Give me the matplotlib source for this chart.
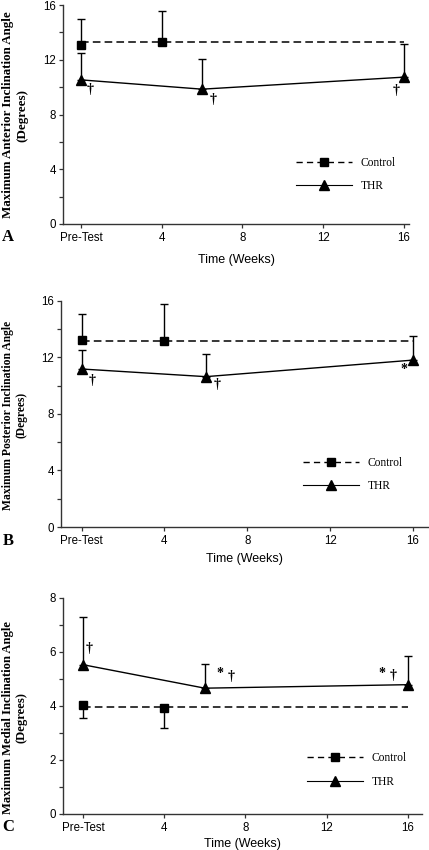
import matplotlib
matplotlib.use("Agg")
import matplotlib.pyplot as plt
from matplotlib.lines import Line2D
from matplotlib.ticker import MultipleLocator

plt.rcParams['lines.scale_dashes'] = False

W, H = 429, 850
DPI = 100
fig = plt.figure(figsize=(W / DPI, H / DPI), dpi=DPI)

# ---------------- data ----------------
x_tick_vals = [0, 4, 8, 12, 16]
x_tick_labels = ["Pre-Test", "4", "8", "12", "16"]

control_weeks = [0, 4]
thr_weeks = [0, 6, 16]
control_line_weeks = [0, 16]

# Panel A: anterior
a_control = [13.1, 13.33]
a_control_err = [1.85, 2.25]
a_control_mean = 13.28
a_thr = [10.53, 9.85, 10.73]
a_thr_err = [1.97, 2.17, 2.41]

# Panel B: posterior
b_control = [13.2, 13.15]
b_control_err = [1.86, 2.59]
b_control_mean = 13.15
b_thr = [11.17, 10.63, 11.8]
b_thr_err = [1.31, 1.6, 1.68]

# Panel C: medial
c_control = [4.02, 3.92]
c_control_err = [0.45, 0.74]
c_control_mean = 3.98
c_thr = [5.53, 4.66, 4.79]
c_thr_err = [1.77, 0.89, 1.05]

# ---------------- layout (pixels) ----------------
panels = [
    dict(letter="A", ylabel="Maximum Anterior Inclination Angle\n(Degrees)",
         control=a_control, cerr=a_control_err, cmean=a_control_mean, cdir="up",
         thr=a_thr, terr=a_thr_err, ymax=16, ymajor=4, yminor=2,
         left=63, right=409, top=5, bottom=224, xlim=(-0.89, 16.25),
         ylab_y=115, ylab_size=9.4, legend=(296, 174.5), letter_xy=(8, 237),
         xlabel_pad=7,
         ann=[(0, "\u2020", 9, -10), (1, "\u2020", 11.5, -10), (2, "\u2020", -7.5, -13)]),
    dict(letter="B", ylabel="Maximum Posterior Inclination Angle\n(Degrees)",
         control=b_control, cerr=b_control_err, cmean=b_control_mean, cdir="up",
         thr=b_thr, terr=b_thr_err, ymax=16, ymajor=4, yminor=2,
         left=61, right=428, top=300.7, bottom=527, xlim=(-1.0, 16.73),
         ylab_y=415, ylab_size=8.4, legend=(303, 474.5), letter_xy=(8, 541),
         xlabel_pad=4,
         ann=[(0, "\u2020", 10, -11), (1, "\u2020", 10.8, -8), (2, "*", -9, -9)]),
    dict(letter="C", ylabel="Maximum Medial Inclination Angle\n(Degrees)",
         control=c_control, cerr=c_control_err, cmean=c_control_mean, cdir="down",
         thr=c_thr, terr=c_thr_err, ymax=8, ymajor=2, yminor=1,
         left=63, right=422, top=598, bottom=814, xlim=(-0.98, 16.69),
         ylab_y=718, ylab_size=9.1, legend=(307, 770), letter_xy=(8, 827),
         xlabel_pad=2.5,
         ann=[(0, "\u2020", 6.3, 16), (1, "*", 15, 15), (1, "\u2020", 26, 12),
              (2, "*", -25.7, 11.5), (2, "\u2020", -14.7, 9)]),
]

axis_color = "#333333"
serif = ["Liberation Serif", "DejaVu Serif"]
sans = ["Liberation Sans", "DejaVu Sans"]

for p in panels:
    ax = fig.add_axes([p["left"] / W, 1 - p["bottom"] / H,
                       (p["right"] - p["left"]) / W, (p["bottom"] - p["top"]) / H])
    ax.set_xlim(*p["xlim"])
    ax.set_ylim(0, p["ymax"])
    for s in ["top", "right"]:
        ax.spines[s].set_visible(False)
    for s in ["left", "bottom"]:
        ax.spines[s].set_color(axis_color)
        ax.spines[s].set_linewidth(1.0)
    ax.yaxis.set_major_locator(MultipleLocator(p["ymajor"]))
    ax.yaxis.set_minor_locator(MultipleLocator(p["yminor"]))
    ax.set_xticks(x_tick_vals)
    ax.set_xticklabels(x_tick_labels)
    ax.tick_params(axis="both", which="both", direction="out", length=3, width=0.9,
                   color=axis_color, labelsize=8.3, pad=2)
    ax.tick_params(axis="x", pad=3)
    for lbl in ax.get_xticklabels() + ax.get_yticklabels():
        lbl.set_fontfamily(sans)

    # control reference dashed line
    ax.plot(control_line_weeks, [p["cmean"], p["cmean"]], color="black", lw=1.1,
            dashes=(5.5, 3.0), zorder=2)
    # control error bars (one-sided)
    if p["cdir"] == "up":
        yerr = [[0] * len(p["cerr"]), p["cerr"]]
    else:
        yerr = [p["cerr"], [0] * len(p["cerr"])]
    ax.errorbar(control_weeks, p["control"], yerr=yerr, fmt="none", ecolor="black",
                elinewidth=1.0, capsize=2.6, capthick=1.0, zorder=3)
    ax.plot(control_weeks, p["control"], linestyle="none", marker="s", markersize=6.3,
            color="black", zorder=4)

    # THR
    ax.errorbar(thr_weeks, p["thr"], yerr=[[0] * len(p["terr"]), p["terr"]], fmt="none",
                ecolor="black", elinewidth=1.0, capsize=2.6, capthick=1.0, zorder=3)
    ax.plot(thr_weeks, p["thr"], color="black", lw=1.0, marker="^", markersize=7,
            zorder=4)

    # annotations
    for idx, txt, dx, dy in p["ann"]:
        ax.annotate(txt, xy=(thr_weeks[idx], p["thr"][idx]), xytext=(dx, dy),
                    textcoords="offset pixels", ha="center", va="center",
                    fontsize=10, fontweight="bold", color="black",
                    family=serif, zorder=5)

    ax.set_xlabel("Time (Weeks)", fontsize=9, family=sans, labelpad=p["xlabel_pad"])

    fig.text(15 / W, 1 - p["ylab_y"] / H, p["ylabel"], rotation=90, ha="center",
             va="center", multialignment="center", fontsize=p["ylab_size"],
             fontweight="bold", family=serif, linespacing=1.2)
    fig.text(p["letter_xy"][0] / W, 1 - p["letter_xy"][1] / H, p["letter"],
             ha="center", va="center", fontsize=12, fontweight="bold", family=serif)

    handles = [
        Line2D([], [], color="black", lw=1.0, dashes=(4.5, 3.0), marker="s",
               markersize=6.3),
        Line2D([], [], color="black", lw=0.8, marker="^", markersize=7),
    ]
    ax.legend(handles, ["Control", "THR"], loc="center left",
              bbox_to_anchor=(p["legend"][0] / W, 1 - p["legend"][1] / H),
              bbox_transform=fig.transFigure, frameon=False, borderpad=0,
              borderaxespad=0, handlelength=4.9, handletextpad=0.7, labelspacing=1.0,
              numpoints=1, prop=dict(family=serif, size=8.3))

fig.savefig("out.png", dpi=DPI)
